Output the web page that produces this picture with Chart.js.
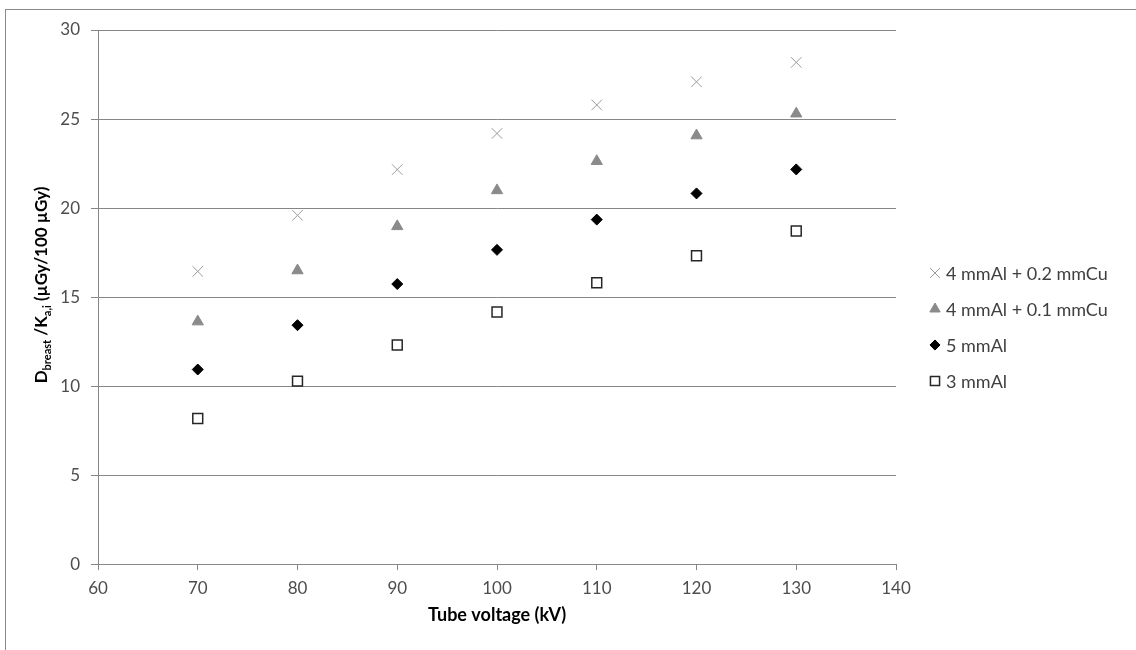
<!DOCTYPE html>
<html>
<head>
<meta charset="utf-8">
<script src="https://cdn.jsdelivr.net/npm/chart.js@4.4.1/dist/chart.umd.min.js"></script>
<style>
  html, body { margin: 0; padding: 0; background: #fff; }
  .chart__container { position: relative; width: 1136px; height: 650px; }
  .chart__frame {
    position: absolute; left: 5px; top: 9px; right: 0; bottom: 0;
    border-top: 1px solid #8a8a8a; border-left: 1px solid #8a8a8a;
    pointer-events: none;
  }
</style>
</head>
<body>
<div class="chart__container">
  <canvas id="my-chart" width="1136" height="650"></canvas>
  <div class="chart__frame"></div>
</div>
<script>
// tube voltage (kV)
const voltages = [70, 80, 90, 100, 110, 120, 130];
// D_breast / K_a,i per filtration
const alCu02 = [16.44, 19.59, 22.16, 24.19, 25.79, 27.09, 28.18];
const alCu01 = [13.62, 16.49, 18.97, 20.99, 22.63, 24.07, 25.30];
const al5 = [10.93, 13.42, 15.73, 17.65, 19.35, 20.82, 22.17];
const al3 = [8.18, 10.28, 12.31, 14.16, 15.80, 17.32, 18.71];
const seriesLabels = ['4 mmAl + 0.2 mmCu', '4 mmAl + 0.1 mmCu', '5 mmAl', '3 mmAl'];
const xTicks = [60, 70, 80, 90, 100, 110, 120, 130, 140];
const yTicks = [0, 5, 10, 15, 20, 25, 30];

const FONT = 'Lato';
const toPoints = (ys) => voltages.map((x, i) => ({ x, y: ys[i] }));

// legend at the right, drawn with the dataset point styles
const sideLegend = {
  id: 'sideLegend',
  afterDraw(chart) {
    const { ctx, chartArea } = chart;
    const rowGap = 36;
    const x0 = chartArea.right + 39;
    const y0 = chart.height / 2 + 2 - rowGap * 1.5;
    ctx.save();
    chart.data.datasets.forEach((ds, i) => {
      const y = y0 + i * rowGap;
      ctx.fillStyle = ds.backgroundColor;
      ctx.strokeStyle = ds.borderColor;
      ctx.lineWidth = ds.borderWidth;
      Chart.helpers.drawPoint(ctx, {
        pointStyle: ds.pointStyle,
        radius: ds.pointRadius * 0.92,
        borderWidth: ds.borderWidth,
        rotation: 0,
      }, x0, y);
      ctx.font = '18px ' + FONT;
      ctx.fillStyle = '#404040';
      ctx.textBaseline = 'middle';
      ctx.fillText(ds.label, x0 + 11, y + 1);
    });
    ctx.restore();
  },
};

// y axis title with subscripts
const yTitle = {
  id: 'yTitle',
  afterDraw(chart) {
    const { ctx } = chart;
    const parts = [['D', 0], ['breast', 1], [' /K', 0], ['a,i', 1], [' (µGy/100 µGy)', 0]];
    const main = 'bold 17px ' + FONT;
    const sub = 'bold 11px ' + FONT;
    ctx.save();
    let total = 0;
    parts.forEach(([t, s]) => { ctx.font = s ? sub : main; total += ctx.measureText(t).width; });
    ctx.translate(42, 285);
    ctx.rotate(-Math.PI / 2);
    ctx.textBaseline = 'middle';
    ctx.fillStyle = '#000';
    let x = -total / 2;
    parts.forEach(([t, s]) => {
      ctx.font = s ? sub : main;
      ctx.fillText(t, x, s ? 5 : 0);
      x += ctx.measureText(t).width;
    });
    ctx.restore();
  },
};

const datasets = [
  {
    label: seriesLabels[0], data: toPoints(alCu02),
    pointStyle: 'crossRot', pointRadius: 7.5, borderWidth: 1,
    borderColor: '#9a9a9a', backgroundColor: '#9a9a9a',
  },
  {
    label: seriesLabels[1], data: toPoints(alCu01),
    pointStyle: 'triangle', pointRadius: 6.5, borderWidth: 1,
    borderColor: '#8a8a8a', backgroundColor: '#8a8a8a',
  },
  {
    label: seriesLabels[2], data: toPoints(al5),
    pointStyle: 'rectRot', pointRadius: 5.5, borderWidth: 1,
    borderColor: '#000', backgroundColor: '#000',
  },
  {
    label: seriesLabels[3], data: toPoints(al3),
    pointStyle: 'rect', pointRadius: 7, borderWidth: 1.5,
    borderColor: '#262626', backgroundColor: '#fff',
  },
];
datasets.forEach(d => { d.showLine = false; d.pointHoverRadius = d.pointRadius; });

const tickFont = { family: FONT, size: 17 };

new Chart(document.getElementById('my-chart'), {
  type: 'scatter',
  data: { datasets },
  options: {
    responsive: false,
    animation: false,
    layout: { padding: { top: 30, right: 240, bottom: 25.5, left: 0 } },
    plugins: {
      legend: { display: false },
      tooltip: { enabled: false },
    },
    scales: {
      x: {
        type: 'linear', min: 60, max: 140,
        afterBuildTicks: (s) => { s.ticks = xTicks.map(v => ({ value: v })); },
        grid: { drawOnChartArea: false, drawTicks: true, tickLength: 6, color: '#868686' },
        border: { color: '#868686' },
        ticks: { color: '#4d4d4d', font: tickFont, padding: 8, maxRotation: 0 },
        title: {
          display: true, text: 'Tube voltage (kV)', color: '#000',
          font: { family: FONT, size: 18, weight: 'bold', lineHeight: 1 },
          padding: { top: 0, bottom: 0 },
        },
      },
      y: {
        min: 0, max: 30,
        afterBuildTicks: (s) => { s.ticks = yTicks.map(v => ({ value: v })); },
        afterFit: (s) => { s.width = 98; },
        grid: { color: '#868686', tickLength: 7 },
        border: { color: '#868686' },
        ticks: { color: '#4d4d4d', font: tickFont, padding: 11 },
      },
    },
  },
  plugins: [sideLegend, yTitle],
});
</script>
</body>
</html>
